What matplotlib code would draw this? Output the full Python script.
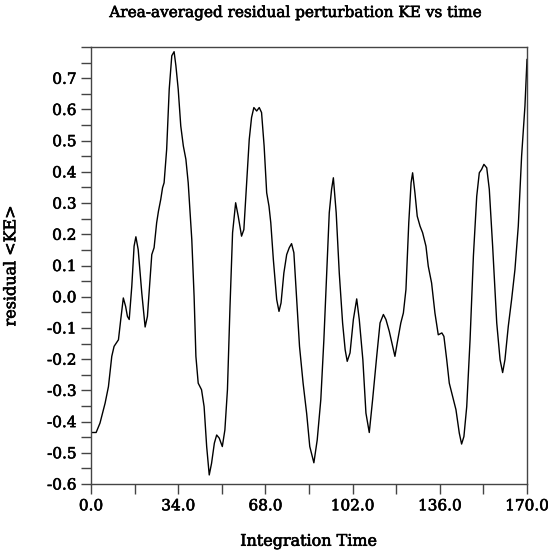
import matplotlib.pyplot as plt
import matplotlib.patheffects as pe
from matplotlib.ticker import MultipleLocator, FormatStrFormatter

# integration time
t = [0, 2, 3.5, 5.5, 6.8, 8.1, 9.0, 10.7, 11.6, 12.6, 13.5, 14.2, 14.9, 15.9,
     16.8, 17.5, 18.4, 19.8, 21.1, 22.0, 23.0, 23.7, 24.6, 25.6, 26.3, 27.2,
     27.9, 28.5, 29.5, 30.5, 31.5, 32.4, 33.1, 34.0, 35.0, 36.0, 37.0, 37.9,
     39.3, 40.2, 40.9, 41.8, 43.1, 44.1, 45.1, 46.1, 47.0, 48.1, 49.0, 50.0,
     51.2, 52.2, 53.2, 54.2, 55.2, 56.4, 57.4, 58.7, 59.6, 60.7, 61.7, 62.6,
     63.5, 64.6, 65.6, 66.5, 67.5, 68.5, 69.4, 70.1, 71.1, 72.4, 73.3, 74.1,
     75.2, 76.3, 77.3, 78.2, 79.1, 80.2, 81.3, 82.7, 84.1, 85.3, 86.9, 88.2,
     89.6, 90.8, 91.9, 92.9, 93.8, 94.5, 95.6, 96.8, 98.1, 99.1, 99.9, 101.0,
     102.3, 103.6, 104.6, 106.0, 107.2, 108.5, 109.8, 111.4, 112.7, 114.0,
     115.0, 116.3, 117.6, 118.5, 119.4, 120.8, 121.8, 122.8, 123.9, 124.8,
     125.4, 126.3, 127.2, 128.3, 129.3, 130.6, 131.5, 132.8, 134.1, 135.4,
     136.8, 137.6, 138.7, 139.7, 141.0, 142.3, 143.6, 144.5, 145.4, 146.5,
     147.8, 149.1, 150.4, 151.4, 152.3, 153.2, 154.3, 155.3, 156.6, 158.2,
     159.5, 160.5, 161.4, 162.7, 164.0, 165.3, 166.6, 167.9, 169.2, 170.0]

# residual <KE>
ke = [-0.435, -0.435, -0.405, -0.341, -0.288, -0.191, -0.159, -0.138, -0.073,
      -0.004, -0.031, -0.063, -0.073, 0.033, 0.162, 0.192, 0.151, 0.012,
      -0.097, -0.063, 0.055, 0.135, 0.157, 0.237, 0.274, 0.312, 0.349, 0.365,
      0.472, 0.665, 0.772, 0.785, 0.740, 0.665, 0.547, 0.483, 0.440, 0.365,
      0.183, 0.001, -0.191, -0.277, -0.298, -0.352, -0.480, -0.571, -0.534,
      -0.469, -0.443, -0.453, -0.480, -0.427, -0.298, -0.031, 0.205, 0.301,
      0.258, 0.194, 0.215, 0.365, 0.504, 0.574, 0.606, 0.595, 0.606, 0.590,
      0.483, 0.333, 0.290, 0.237, 0.119, -0.009, -0.047, -0.020, 0.076, 0.135,
      0.157, 0.170, 0.141, -0.009, -0.159, -0.277, -0.375, -0.480, -0.532,
      -0.459, -0.330, -0.138, 0.076, 0.269, 0.344, 0.381, 0.269, 0.076,
      -0.084, -0.170, -0.207, -0.180, -0.073, -0.007, -0.073, -0.202, -0.373,
      -0.435, -0.330, -0.191, -0.084, -0.057, -0.073, -0.111, -0.159, -0.191,
      -0.148, -0.084, -0.052, 0.023, 0.237, 0.365, 0.397, 0.333, 0.258, 0.226,
      0.205, 0.162, 0.098, 0.044, -0.052, -0.122, -0.116, -0.127, -0.202,
      -0.277, -0.320, -0.362, -0.437, -0.472, -0.448, -0.352, -0.138, 0.130,
      0.322, 0.397, 0.408, 0.424, 0.413, 0.344, 0.162, -0.084, -0.202, -0.243,
      -0.202, -0.095, -0.009, 0.087, 0.226, 0.451, 0.611, 0.760]

plt.rcParams['font.family'] = 'DejaVu Serif'
heavy = [pe.withStroke(linewidth=0.45, foreground='black')]  # slightly heavier text

fig = plt.figure(figsize=(5.48, 5.55), dpi=100)
ax = fig.add_axes([91 / 548, 71 / 555, 436 / 548, 437 / 555])

ax.plot(t, ke, color='black', linewidth=1.0)

ax.set_xlim(0, 170)
ax.set_ylim(-0.6, 0.8)
ax.xaxis.set_major_locator(MultipleLocator(34))
ax.xaxis.set_minor_locator(MultipleLocator(17))
ax.yaxis.set_minor_locator(MultipleLocator(0.05))
ax.set_yticks([v / 10 for v in range(-6, 8)])
ax.xaxis.set_major_formatter(FormatStrFormatter('%.1f'))
ax.yaxis.set_major_formatter(FormatStrFormatter('%.1f'))

for s in ax.spines.values():
    s.set_color('#444444')
    s.set_linewidth(1.0)
ax.tick_params(which='both', direction='out', length=7, width=1.0,
               color='#444444', labelsize=11, top=False, right=False)
ax.tick_params(axis='x', pad=4)
for lab in ax.get_xticklabels() + ax.get_yticklabels():
    lab.set_path_effects(heavy)

ax.set_xlabel('Integration Time', fontsize=11.5, labelpad=14, path_effects=heavy)
ax.set_ylabel('residual <KE>', fontsize=11.5, labelpad=20, path_effects=heavy)
fig.text(295 / 548, 1 - 13 / 555, 'Area-averaged residual perturbation KE vs time',
         ha='center', va='center', fontsize=11, path_effects=heavy)

fig.savefig('out.png', dpi=100)
